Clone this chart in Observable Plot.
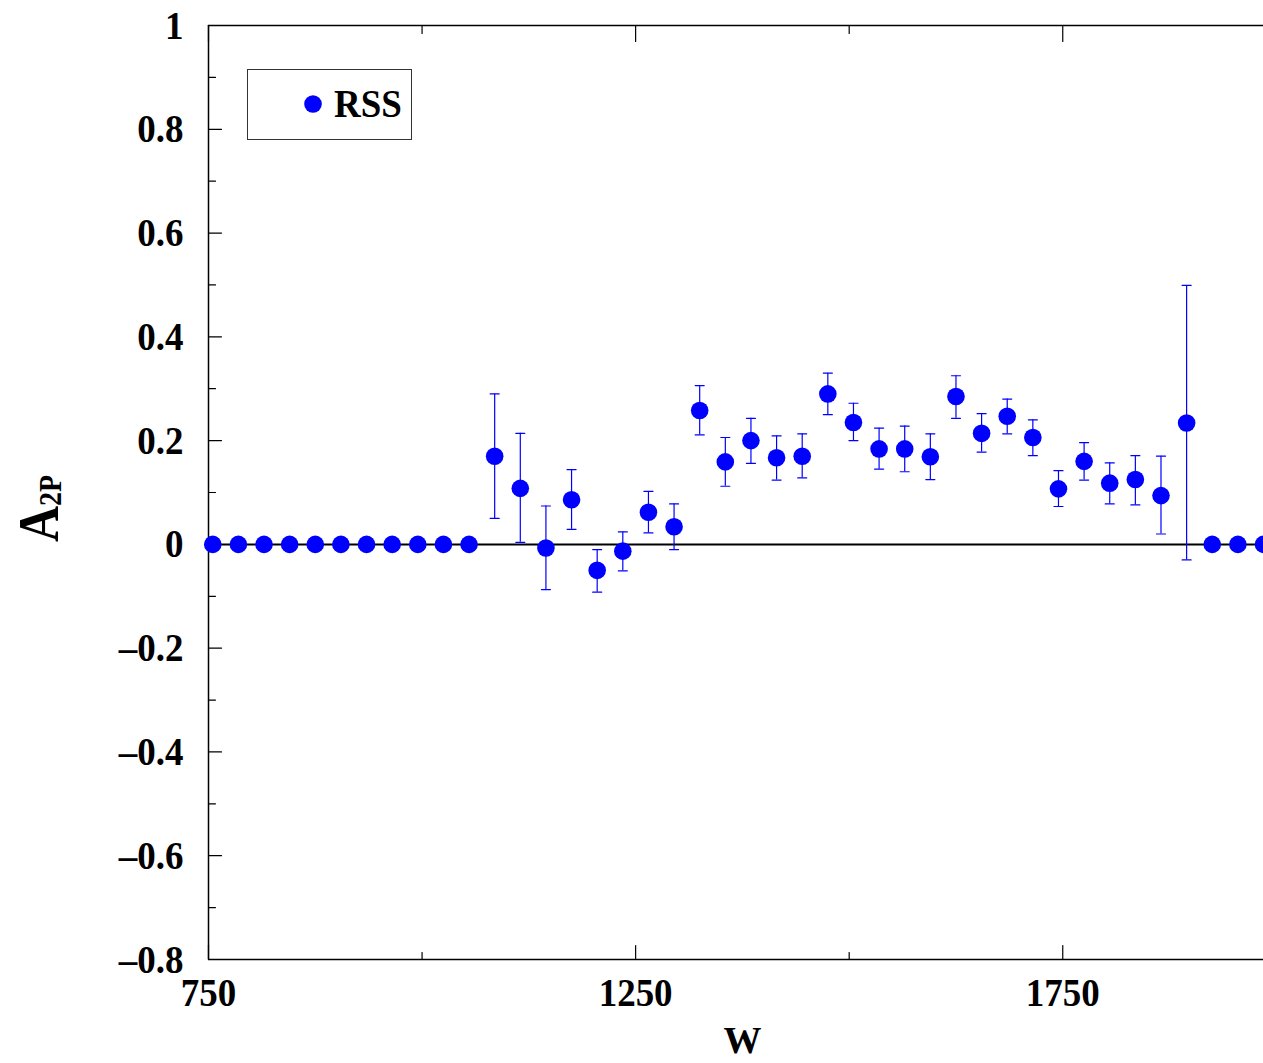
<!DOCTYPE html>
<html><head><meta charset="utf-8">
<script src="https://cdn.jsdelivr.net/npm/d3@7"></script>
<script src="https://cdn.jsdelivr.net/npm/@observablehq/plot@0.6"></script>
<style>
html,body{margin:0;padding:0;background:#fff;overflow:hidden}
#chart{position:relative;width:1263px;height:1063px}
</style>
</head><body><div id="chart"></div>
<script>
// ---- data ----
const W = [755,785,815,845,875,905,935,965,995,1025,1055,1085,1115,1145,1175,1205,1235,1265,1295,1325,1355,1385,1415,1445,1475,1505,1535,1565,1595,1625,1655,1685,1715,1745,1775,1805,1835,1865,1895,1925,1955,1985];
const A2P = [0,0,0,0,0,0,0,0,0,0,0,
  0.170,0.108,-0.007,0.086,-0.050,-0.013,0.062,0.034,0.258,0.159,0.200,0.167,0.170,0.290,0.235,0.184,0.184,0.169,0.285,0.214,0.247,0.206,0.107,0.160,0.118,0.125,0.094,0.234,
  0,0,0];
const errLow = [null,null,null,null,null,null,null,null,null,null,null,
  0.050,0.004,-0.087,0.029,-0.092,-0.051,0.022,-0.010,0.211,0.112,0.156,0.124,0.128,0.250,0.200,0.145,0.140,0.125,0.243,0.178,0.213,0.171,0.073,0.124,0.078,0.076,0.020,-0.030,
  null,null,null];
const errHigh = [null,null,null,null,null,null,null,null,null,null,null,
  0.290,0.214,0.074,0.144,-0.010,0.024,0.102,0.078,0.306,0.206,0.243,0.209,0.213,0.330,0.272,0.224,0.228,0.213,0.325,0.252,0.280,0.240,0.142,0.196,0.157,0.171,0.170,0.499,
  null,null,null];
const seriesName = "RSS";
const xMajorTicks = [750,1250,1750];
const xMinorTicks = [1000,1500];
const yMajorTicks = [-0.8,-0.6,-0.4,-0.2,0,0.2,0.4,0.6,0.8,1];
const yMinorTicks = [-0.7,-0.5,-0.3,-0.1,0.1,0.3,0.5,0.7,0.9];
const yTickLabels = ["\u20130.8","\u20130.6","\u20130.4","\u20130.2","0","0.2","0.4","0.6","0.8","1"];
const xDomain = [750, 1985];
const yDomain = [-0.8, 1];

// ---- build ----
const blue = "#0000ff";
const points = W.map((w, i) => ({w, a: A2P[i], lo: errLow[i], hi: errHigh[i]}));
const errRows = points.filter(d => d.lo != null);
const lineShape = {draw(ctx, l) { ctx.moveTo(0, 0); ctx.lineTo(0, -l); }};
const tickStyle = {shape: lineShape, anchor: "start", stroke: "#000", strokeWidth: 1.2};

const plot = Plot.plot({
  width: 1263, height: 1063,
  marginLeft: 208, marginRight: 0, marginTop: 25, marginBottom: 104,
  x: {domain: xDomain},
  y: {domain: yDomain},
  style: {fontFamily: "'Liberation Serif', 'Times New Roman', serif", fontWeight: "bold", fontSize: "37px", background: "#fff", color: "#000"},
  marks: [
    // frame lines
    Plot.ruleY([yDomain[0], yDomain[1]], {stroke: "#000", strokeWidth: 1.5}),
    Plot.ruleX([xDomain[0]], {stroke: "#000", strokeWidth: 1.5}),
    // zero line
    Plot.ruleY([0], {stroke: "#000", strokeWidth: 2}),
    // inward ticks: left
    Plot.vector(yMajorTicks, {x: () => xDomain[0], y: d => d, length: 13, rotate: 90, ...tickStyle}),
    Plot.vector(yMinorTicks, {x: () => xDomain[0], y: d => d, length: 7, rotate: 90, ...tickStyle}),
    // bottom
    Plot.vector(xMajorTicks, {x: d => d, y: () => yDomain[0], length: 14, rotate: 0, ...tickStyle}),
    Plot.vector(xMinorTicks, {x: d => d, y: () => yDomain[0], length: 7, rotate: 0, ...tickStyle}),
    // top
    Plot.vector(xMajorTicks, {x: d => d, y: () => yDomain[1], length: 16, rotate: 180, ...tickStyle}),
    Plot.vector(xMinorTicks, {x: d => d, y: () => yDomain[1], length: 8, rotate: 180, ...tickStyle}),
    // error bars
    Plot.ruleX(errRows, {x: "w", y1: "lo", y2: "hi", stroke: blue, strokeWidth: 1.2}),
    Plot.vector(errRows, {x: "w", y: "lo", length: 9, rotate: 90, anchor: "middle", shape: lineShape, stroke: blue, strokeWidth: 1.2}),
    Plot.vector(errRows, {x: "w", y: "hi", length: 9, rotate: 90, anchor: "middle", shape: lineShape, stroke: blue, strokeWidth: 1.2}),
    // points
    Plot.dot(points, {x: "w", y: "a", r: 8.8, fill: blue, stroke: "none"}),
    // axes labels
    Plot.axisX(xMajorTicks, {tickSize: 0, tickPadding: 18, tickFormat: d => String(d), label: null, fontSize: 37, fontWeight: "bold"}),
    Plot.axisY(yMajorTicks, {tickSize: 0, tickPadding: 25, tickFormat: (d, i) => yTickLabels[yMajorTicks.indexOf(d)], label: null, fontSize: 37, fontWeight: "bold"})
  ]
});
document.getElementById("chart").appendChild(plot);

const svg = d3.select(plot);
svg.style("overflow", "hidden");
// stretch tick labels vertically like the reference's tall glyphs
svg.selectAll("text").each(function() {
  const t = d3.select(this);
  const tr = t.attr("transform");
  if (tr) t.attr("transform", tr + " scale(1,1.1)");
  else {
    const x = +t.attr("x") || 0, y = +t.attr("y") || 0;
    t.attr("transform", `translate(${x},${y}) scale(1,1.1) translate(${-x},${-y})`);
  }
});

const font = "'Liberation Serif', 'Times New Roman', serif";
// legend
const lg = svg.append("g");
lg.append("rect").attr("x", 247.5).attr("y", 69.5).attr("width", 164).attr("height", 70)
  .attr("fill", "#fff").attr("stroke", "#333").attr("stroke-width", 1);
lg.append("circle").attr("cx", 313).attr("cy", 104).attr("r", 8.8).attr("fill", blue);
lg.append("text").attr("transform", "translate(334,117) scale(1,1.08)")
  .attr("text-anchor", "start")
  .attr("font-family", font).attr("font-weight", "bold").attr("font-size", 37).attr("fill", "#000")
  .text(seriesName);
// y axis label A_2P
const yl = svg.append("text").attr("transform", "translate(58,542) rotate(-90) scale(1,1.15)")
  .attr("text-anchor", "start")
  .attr("font-family", font).attr("font-weight", "bold").attr("fill", "#000");
yl.append("tspan").attr("font-size", 50).text("A");
yl.append("tspan").attr("font-size", 28).attr("dy", 3).text("2P");
// x axis label W
svg.append("text").attr("x", 742.5).attr("y", 1053).attr("text-anchor", "middle")
  .attr("font-family", font).attr("font-weight", "bold").attr("font-size", 38).attr("fill", "#000")
  .text("W");
</script>
</body></html>
